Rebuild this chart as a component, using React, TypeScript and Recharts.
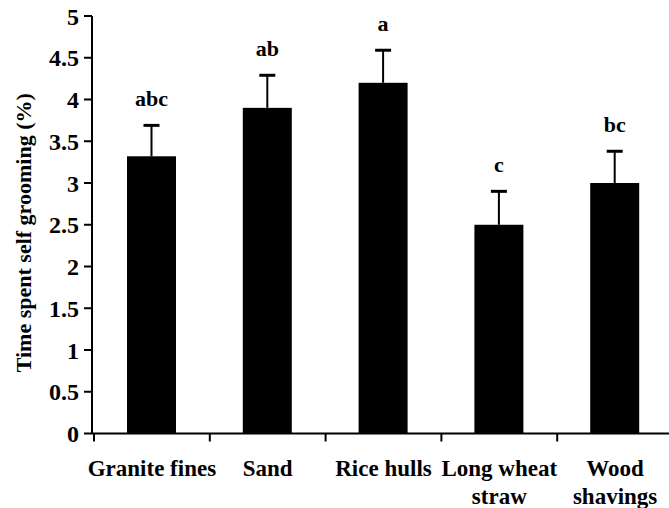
import React from "react";
import { BarChart, Bar, XAxis, YAxis } from "recharts";

const categories = ["Granite fines", "Sand", "Rice hulls", "Long wheat straw", "Wood shavings"];
const tickLines = [["Granite fines"], ["Sand"], ["Rice hulls"], ["Long wheat", "straw"], ["Wood", "shavings"]];
const means = [3.32, 3.9, 4.2, 2.5, 3.0];
const sem = [0.37, 0.39, 0.39, 0.4, 0.38];
const letters = ["abc", "ab", "a", "c", "bc"];
const yTicks = [0, 0.5, 1, 1.5, 2, 2.5, 3, 3.5, 4, 4.5, 5];

const data = categories.map((name, i) => ({
  name,
  value: means[i],
}));

const FONT = '"Liberation Serif", "Times New Roman", "DejaVu Serif", serif';
const textStyle: React.CSSProperties = { fontFamily: FONT, fontWeight: 700, fill: "#000" };

const XTick = (props: any) => {
  const { x, y, payload, index } = props;
  const off = payload && payload.offset != null ? payload.offset : 58;
  const lines = tickLines[index] || [String(payload.value)];
  return (
    <g>
      <line x1={x - off} x2={x - off} y1={y} y2={y + 8} stroke="#000" strokeWidth={2} />
      {lines.map((t: string, k: number) => (
        <text
          key={k}
          x={x}
          y={y + 42 + k * 28}
          textAnchor="middle"
          style={{ ...textStyle, fontSize: 23 }}
        >
          {t}
        </text>
      ))}
    </g>
  );
};

const BarWithError = (props: any) => {
  const { x, y, width, height, value, index } = props;
  if (value == null || !height) return null;
  const v = Array.isArray(value) ? value[1] - value[0] : value;
  const ppu = height / v;
  const capY = y - sem[index] * ppu;
  const cx = x + width / 2;
  return (
    <g>
      <rect x={x} y={y} width={width} height={height} fill="#000" />
      <line x1={cx} x2={cx} y1={y} y2={capY} stroke="#000" strokeWidth={2} />
      <line x1={cx - 8} x2={cx + 8} y1={capY} y2={capY} stroke="#000" strokeWidth={3} />
      <text x={cx} y={capY - 19} textAnchor="middle" style={{ ...textStyle, fontSize: 22 }}>
        {letters[index]}
      </text>
    </g>
  );
};

const YLabel = (props: any) => {
  const vb = props.viewBox || { x: 0, y: 16, width: 92, height: 417 };
  const cx = vb.x + 23;
  const cy = vb.y + vb.height / 2 + 8;
  return (
    <text
      x={cx}
      y={cy}
      transform={`rotate(-90, ${cx}, ${cy})`}
      textAnchor="middle"
      dominantBaseline="central"
      style={{ ...textStyle, fontSize: 22 }}
    >
      Time spent self grooming (%)
    </text>
  );
};

export default function App() {
  return (
    <div
      style={{
        position: "absolute",
        left: 0,
        top: 0,
        width: 669,
        height: 508,
        overflow: "hidden",
        background: "#fff",
      }}
    >
      <BarChart
        width={673}
        height={508}
        data={data}
        margin={{ top: 16, right: 0, bottom: 0, left: 0 }}
      >
        <XAxis
          dataKey="name"
          interval={0}
          height={74.5}
          padding={{ left: 2, right: 0 }}
          tickLine={false}
          tickSize={0}
          tickMargin={0}
          axisLine={{ stroke: "#000", strokeWidth: 2 }}
          tick={<XTick />}
        />
        <YAxis
          width={92}
          domain={[0, 5]}
          ticks={yTicks}
          interval={0}
          tickSize={8}
          tickMargin={5}
          axisLine={{ stroke: "#000", strokeWidth: 2 }}
          tickLine={{ stroke: "#000", strokeWidth: 2 }}
          tick={{ style: { ...textStyle, fontSize: 24 }, fontFamily: FONT, fontWeight: 700, fontSize: 24, fill: "#000" }}
          label={<YLabel />}
        />
        <Bar
          dataKey="value"
          fill="#000"
          barSize={49}
          isAnimationActive={false}
          shape={<BarWithError />}
        />
      </BarChart>
    </div>
  );
}
